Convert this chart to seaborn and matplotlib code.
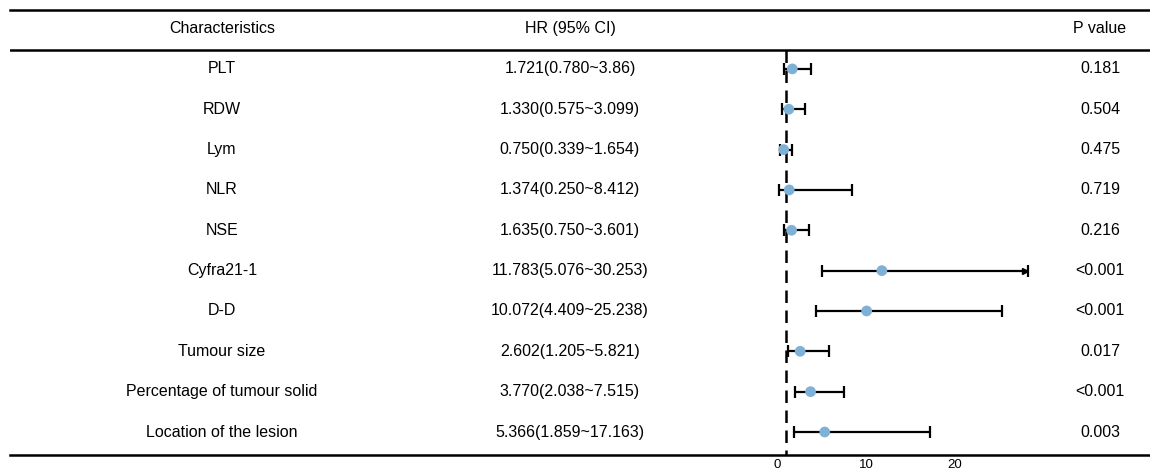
import numpy as np
import pandas as pd
import matplotlib
matplotlib.use("Agg")
import matplotlib.pyplot as plt
import seaborn as sns

characteristics = ["PLT", "RDW", "Lym", "NLR", "NSE", "Cyfra21-1", "D-D",
                   "Tumour size", "Percentage of tumour solid", "Location of the lesion"]
hr = [1.721, 1.330, 0.750, 1.374, 1.635, 11.783, 10.072, 2.602, 3.770, 5.366]
lower = [0.780, 0.575, 0.339, 0.250, 0.750, 5.076, 4.409, 1.205, 2.038, 1.859]
upper = [3.86, 3.099, 1.654, 8.412, 3.601, 30.253, 25.238, 5.821, 7.515, 17.163]
hr_labels = ["1.721(0.780~3.86)", "1.330(0.575~3.099)", "0.750(0.339~1.654)",
             "1.374(0.250~8.412)", "1.635(0.750~3.601)", "11.783(5.076~30.253)",
             "10.072(4.409~25.238)", "2.602(1.205~5.821)", "3.770(2.038~7.515)",
             "5.366(1.859~17.163)"]
p_values = ["0.181", "0.504", "0.475", "0.719", "0.216", "<0.001", "<0.001",
            "0.017", "<0.001", "0.003"]
x_ticks = [0, 10, 20]
ref_line = 1
clip_at = 28.2

df = pd.DataFrame({"name": characteristics, "hr": hr, "lo": lower, "hi": upper,
                   "label": hr_labels, "p": p_values})
df["row"] = np.arange(len(df))
df["hi_clip"] = np.minimum(df["hi"], clip_at)

sns.set_style("white")
plt.rcParams["font.family"] = ["Liberation Sans", "DejaVu Sans"]
plt.rcParams["text.color"] = "black"
plt.rcParams["xtick.color"] = "black"

fig = plt.figure(figsize=(11.5, 4.73), dpi=100)
ax = fig.add_axes([10 / 1150, 18 / 473, 1140 / 1150, 445 / 473])

y_bottom = len(df) - 1 + 0.57
header_line = -0.47

# forest part
ax.vlines(ref_line, header_line, y_bottom, color="black", lw=1.8,
          linestyles=(0, (5, 3)), zorder=1)
ax.errorbar(df["hr"], df["row"],
            xerr=[df["hr"] - df["lo"], df["hi_clip"] - df["hr"]],
            fmt="none", ecolor="black", elinewidth=1.6, capsize=4, capthick=1.6, zorder=2)
clipped = df[df["hi"] > clip_at]
ax.plot(clipped["hi_clip"] - 0.35, clipped["row"], marker=">", color="black",
        ms=5, ls="none", zorder=2)
sns.scatterplot(data=df, x="hr", y="row", ax=ax, color="#7fb1d7", s=60,
                edgecolor="none", zorder=3)

# table text
tr = ax.get_yaxis_transform()
fs = 11.5
col_x = [(222 - 10) / 1140, (570 - 10) / 1140, (1100 - 10) / 1140]
for _, r in df.iterrows():
    for cx, txt in zip(col_x, [r["name"], r["label"], r["p"]]):
        ax.text(cx, r["row"], txt, transform=tr, ha="center", va="center", fontsize=fs)
for cx, txt in zip(col_x, ["Characteristics", "HR (95% CI)", "P value"]):
    ax.text(cx, -1, txt, transform=tr, ha="center", va="center", fontsize=fs)

ax.axhline(header_line, color="black", lw=1.8)

x0 = 777
scale = 8.9
ax.set_xlim((10 - x0) / scale, (1150 - x0) / scale)
ax.set_ylim(y_bottom, -1.46)
ax.set_xticks(x_ticks)
ax.set_xticklabels([str(t) for t in x_ticks], fontsize=9.5)
ax.tick_params(axis="x", length=0, pad=3)
ax.set_yticks([])
ax.set_xlabel("")
ax.set_ylabel("")
for s in ["left", "right"]:
    ax.spines[s].set_visible(False)
for s in ["top", "bottom"]:
    ax.spines[s].set_linewidth(1.8)
    ax.spines[s].set_color("black")

fig.savefig("out.png", dpi=100)
